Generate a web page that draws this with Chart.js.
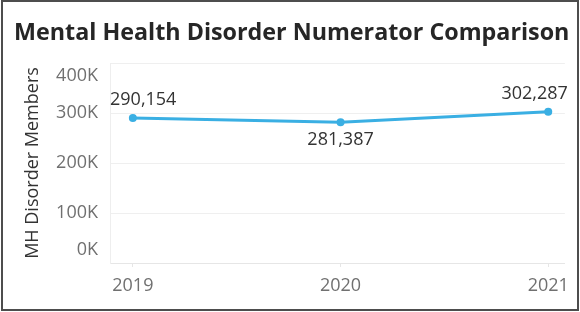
<!DOCTYPE html>
<html>
<head>
<meta charset="utf-8">
<script src="https://cdn.jsdelivr.net/npm/chart.js@4"></script>
<style>
  body { margin: 0; background: #fff; }
  #wrap {
    position: absolute; left: 1px; top: 0; width: 578px; height: 311px;
    border: 2px solid #4d4d4d; box-sizing: border-box; background: #fff;
  }
</style>
</head>
<body>
<div id="wrap"><canvas id="mhChart"></canvas></div>
<script>
// Données du graphique
const years = [2019, 2020, 2021];
const members = [290154, 281387, 302287];
const yTicks = [0, 100000, 200000, 300000, 400000];

const titleText = 'Mental Health Disorder Numerator Comparison';
const blue = '#3aafe3';
const fontFamily = '"Open Sans", "Noto Sans", sans-serif';

// Titre dessiné en haut à gauche
const titlePlugin = {
    id: 'leftTitle',
    afterDraw(chart) {
        const ctx = chart.ctx;
        ctx.save();
        ctx.font = 'bold 23.3px ' + fontFamily;
        ctx.fillStyle = '#262626';
        ctx.textBaseline = 'middle';
        ctx.textAlign = 'left';
        ctx.fillText(titleText, 11, 31);
        ctx.restore();
    }
};

// Étiquettes de l'axe Y (repoussées vers l'intérieur aux extrémités)
const yLabelsPlugin = {
    id: 'yLabels',
    afterDraw(chart) {
        const ctx = chart.ctx;
        const y = chart.scales.y;
        const area = chart.chartArea;
        ctx.save();
        ctx.font = '18px ' + fontFamily;
        ctx.fillStyle = '#707070';
        ctx.textAlign = 'right';
        ctx.textBaseline = 'middle';
        yTicks.forEach(v => {
            let py = y.getPixelForValue(v);
            py = Math.min(Math.max(py, area.top + 13), area.bottom - 13);
            ctx.fillText((v / 1000) + 'K', area.left - 12, py);
        });
        ctx.restore();
    }
};

// Étiquettes de valeurs sur les points (gardées dans la zone du graphique)
const valueLabelsPlugin = {
    id: 'valueLabels',
    afterDatasetsDraw(chart) {
        const ctx = chart.ctx;
        const meta = chart.getDatasetMeta(0);
        const area = chart.chartArea;
        ctx.save();
        ctx.font = '18px ' + fontFamily;
        ctx.fillStyle = '#333';
        ctx.textAlign = 'center';
        ctx.textBaseline = 'middle';
        meta.data.forEach((pt, i) => {
            const v = members[i];
            const prev = i > 0 ? members[i - 1] : Infinity;
            const next = i < members.length - 1 ? members[i + 1] : Infinity;
            const below = v < prev && v < next;
            const txt = v.toLocaleString('en-US');
            const w = ctx.measureText(txt).width;
            let x = Math.min(pt.x, area.right + 3 - w / 2);
            x = Math.max(x, area.left + w / 2);
            const yy = below ? pt.y + 18 : pt.y - 18;
            ctx.fillText(txt, x, yy);
        });
        ctx.restore();
    }
};

const ctx = document.getElementById('mhChart').getContext('2d');
new Chart(ctx, {
    type: 'line',
    data: {
        labels: years,
        datasets: [{
            label: 'MH Disorder Members',
            data: years.map((yr, i) => ({ x: yr, y: members[i] })),
            borderColor: blue,
            backgroundColor: blue,
            borderWidth: 3,
            pointRadius: 4,
            pointHoverRadius: 4,
            pointBackgroundColor: blue,
            pointBorderWidth: 0,
            tension: 0
        }]
    },
    options: {
        responsive: true,
        maintainAspectRatio: false,
        animation: false,
        layout: { padding: { top: 61, right: 5, left: 0, bottom: 0 } },
        plugins: {
            legend: { display: false },
            title: { display: false },
            tooltip: { enabled: false }
        },
        scales: {
            x: {
                type: 'linear',
                min: 2018.89,
                max: 2021.08,
                afterBuildTicks: scale => { scale.ticks = years.map(v => ({ value: v })); },
                afterFit: scale => { scale.height = 46; },
                grid: {
                    drawOnChartArea: false,
                    drawTicks: true,
                    tickLength: 4,
                    tickColor: '#e6e6e6'
                },
                border: { display: true, color: '#e6e6e6' },
                ticks: {
                    padding: 8,
                    color: '#707070',
                    font: { size: 18, family: fontFamily },
                    callback: v => String(v),
                    maxRotation: 0
                }
            },
            y: {
                min: 0,
                max: 400000,
                afterBuildTicks: scale => { scale.ticks = yTicks.map(v => ({ value: v })); },
                afterFit: scale => { scale.width = 107; },
                grid: { color: '#efefef', drawTicks: false },
                border: { display: true, color: '#eeeeee' },
                ticks: {
                    color: 'rgba(0,0,0,0)',
                    font: { size: 15, family: fontFamily }
                },
                title: {
                    display: true,
                    text: 'MH Disorder Members',
                    color: '#333',
                    font: { size: 18, family: fontFamily },
                    padding: { top: 19, bottom: 0 }
                }
            }
        }
    },
    plugins: [titlePlugin, yLabelsPlugin, valueLabelsPlugin]
});
</script>
</body>
</html>
